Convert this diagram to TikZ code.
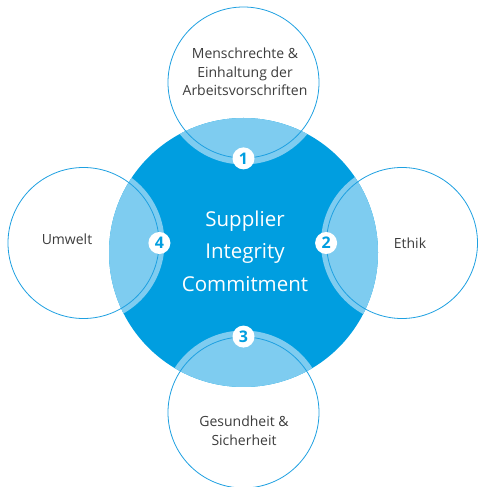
\documentclass[tikz,border=0pt]{standalone}
\usepackage{fontspec}
\setmainfont{Open Sans}
\definecolor{dblue}{RGB}{0,158,224}
\definecolor{lblue}{RGB}{126,204,240}
\definecolor{lineblue}{RGB}{30,160,225}
\definecolor{txt}{RGB}{60,60,60}
\begin{document}
\begin{tikzpicture}[x=1pt,y=1pt,
  smallc/.style={circle, draw=lineblue, line width=0.8pt, minimum size=151pt, inner sep=0pt},
  badge/.style={circle, fill=white, minimum size=22pt, inner sep=0pt, text=dblue,
    font=\bfseries\fontsize{16}{16}\selectfont},
  lbl/.style={align=center, text=txt, font=\fontsize{14}{18.5}\selectfont}]
\useasboundingbox (0,0) rectangle (478,487);
\node[circle, fill=dblue, minimum size=269pt, inner sep=0pt] (core) at (243.5,234.5) {};
\coordinate (pt) at (243.5,404.5);
\coordinate (pr) at (402,244);
\coordinate (pb) at (243.5,74.5);
\coordinate (pl) at (83.5,244);
\begin{scope}
  \clip (core.center) circle (134.5);
  \fill[lblue] (pt) circle (82);
  \fill[lblue] (pr) circle (81);
  \fill[lblue] (pb) circle (82);
  \fill[lblue] (pl) circle (81);
\end{scope}
\node[smallc] (c1) at (pt) {};
\node[smallc] (c2) at (pr) {};
\node[smallc] (c3) at (pb) {};
\node[smallc] (c4) at (pl) {};
\node[badge] (b1) at (c1.south) {1};
\node[badge] (b2) at (c2.west) {2};
\node[badge] (b3) at (c3.north) {3};
\node[badge] (b4) at (c4.east) {4};
\node[lbl] (t1) at (245,415) {Menschrechte \&\\Einhaltung der\\Arbeitsvorschriften};
\node[lbl] (t2) at (410,244) {Ethik};
\node[lbl] (t3) at (244,56) {Gesundheit \&\\Sicherheit};
\node[lbl] (t4) at (67,248) {Umwelt};
\node[align=center, text=white, font=\fontsize{20.5}{32.5}\selectfont] (main) at (245,236) {Supplier\\Integrity\\Commitment};
\end{tikzpicture}
\end{document}
